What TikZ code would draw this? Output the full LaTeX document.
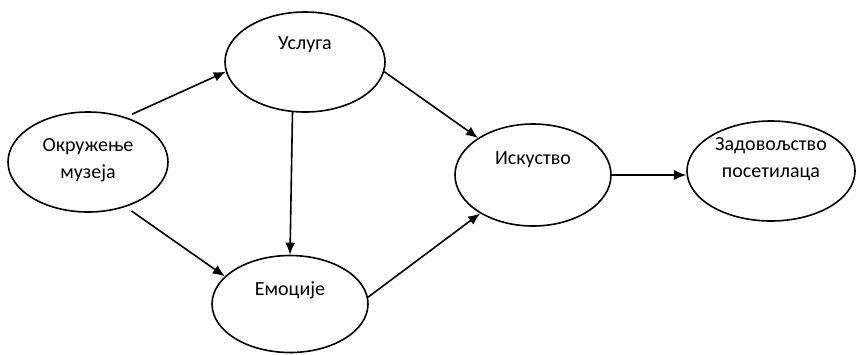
\documentclass[tikz,border=0pt]{standalone}
\usepackage{fontspec}
\setmainfont{Carlito}
\usetikzlibrary{shapes.geometric,arrows.meta}

\begin{document}
\begin{tikzpicture}[x=0.5pt,y=-0.5pt,
    ell/.style={ellipse,draw,line width=0.8pt,inner sep=0pt,minimum width=80pt,minimum height=50pt},
    txt/.style={align=center,font=\fontsize{10}{13.5}\selectfont},
    arr/.style={line width=0.8pt,-{Latex[length=6pt,width=5pt]}}]
%  \draw[help lines] (0,0) grid[step=50] (860,354);
  \useasboundingbox (0,0) rectangle (860,354);
    \path (88,162) node(okr) [ell,label={[txt,yshift=1pt]center:Окружење\\музеја}] {}
    (305,62) node(usl) [ell,label={[txt,yshift=8.5pt]center:Услуга}] {}
    (290,304) node(emo) [ell,minimum width=78pt,minimum height=48.5pt,label={[txt,yshift=7pt]center:Емоције}] {}
    (533,175) node(isk) [ell,minimum width=78pt,minimum height=51pt,label={[txt,yshift=7.5pt]center:Искуство}] {}
    (771,171) node(zad) [ell,minimum width=84pt,label={[txt,yshift=6pt]center:Задовољство\\посетилаца}] {};
    \draw[arr,shorten <=3.5pt] (okr.50) -- (usl.187);
    \draw[arr,shorten <=3.5pt] (okr.-50) -- (emo.157);
    \draw[arr] (usl.-104) -- (emo.north);
    \draw[arr] (usl.-7) -- (isk.146);
    \draw[arr] (emo.5) -- (isk.216);
    \draw[arr] (isk.east) -- (isk.east -| zad.west);
  \end{tikzpicture}
\end{document}
